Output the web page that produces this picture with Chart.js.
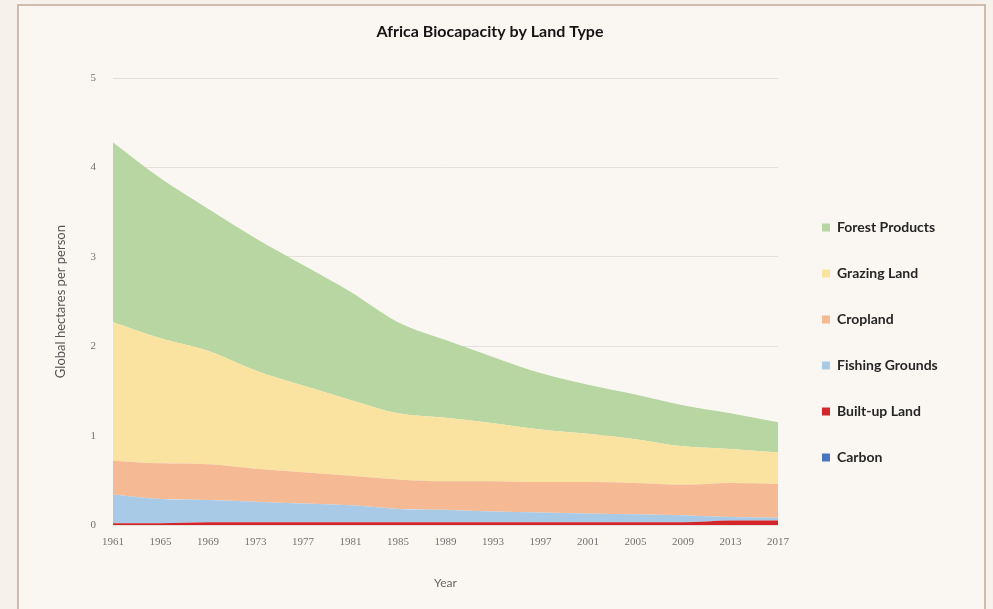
<!DOCTYPE html>
<html>
<head>
<meta charset="utf-8">
<title>Africa Biocapacity by Land Type</title>
<script src="https://cdn.jsdelivr.net/npm/chart.js@4.4.1/dist/chart.umd.min.js"></script>
<style>
  html, body { margin: 0; padding: 0; background: #f6f1eb; overflow: hidden; }
  .frame {
    position: absolute; left: 17px; top: 4px;
    width: 965px; height: 620px;
    border: 2px solid #cdbcad;
    background: #faf7f3;
  }
  .chart-box { position: absolute; left: 0; top: 2px; width: 965px; height: 603px; }
</style>
</head>
<body>
<div class="frame">
  <div class="chart-box"><canvas id="bioChart"></canvas></div>
</div>
<script>
// years shown on the axis (every fourth year)
const years = ['1961', '1965', '1969', '1973', '1977', '1981', '1985', '1989',
               '1993', '1997', '2001', '2005', '2009', '2013', '2017'];

// global hectares per person, stacked bottom to top
const carbon   = [0, 0, 0, 0, 0, 0, 0, 0, 0, 0, 0, 0, 0, 0, 0];
const builtUp  = [0.02, 0.02, 0.03, 0.03, 0.03, 0.03, 0.03, 0.03, 0.03, 0.03, 0.03, 0.03, 0.03, 0.05, 0.05];
const fishing  = [0.32, 0.27, 0.25, 0.23, 0.21, 0.19, 0.15, 0.14, 0.12, 0.11, 0.10, 0.09, 0.08, 0.04, 0.03];
const cropland = [0.38, 0.40, 0.40, 0.37, 0.35, 0.33, 0.33, 0.32, 0.34, 0.34, 0.35, 0.35, 0.34, 0.38, 0.38];
const grazing  = [1.55, 1.40, 1.27, 1.10, 0.97, 0.85, 0.74, 0.71, 0.65, 0.59, 0.54, 0.49, 0.43, 0.38, 0.35];
const forest   = [2.01, 1.79, 1.59, 1.48, 1.35, 1.21, 1.02, 0.87, 0.74, 0.63, 0.55, 0.50, 0.46, 0.40, 0.34];

const yTicks = [0, 1, 2, 3, 4, 5];

const series = [
  { label: 'Carbon',          data: carbon,   color: '#4a74bd' },
  { label: 'Built-up Land',   data: builtUp,  color: '#d2262b' },
  { label: 'Fishing Grounds', data: fishing,  color: '#a9cae6' },
  { label: 'Cropland',        data: cropland, color: '#f5ba93' },
  { label: 'Grazing Land',    data: grazing,  color: '#fae3a0' },
  { label: 'Forest Products', data: forest,   color: '#b7d6a1' }
];

// nudge the legend block to sit a little right of and below its default spot
const legendNudge = {
  id: 'legendNudge',
  afterLayout(chart) {
    const lg = chart.legend;
    if (!lg) return;
    lg.left += 12; lg.right += 12;
    lg.top += 33; lg.bottom += 33;
  }
};

const tickFont = { family: '"Liberation Serif", "DejaVu Serif", serif', size: 11 };

new Chart(document.getElementById('bioChart'), {
  type: 'line',
  data: {
    labels: years,
    datasets: series.map((s, i) => ({
      label: s.label,
      data: s.data,
      backgroundColor: s.color,
      borderColor: s.color,
      borderWidth: 0,
      pointRadius: 0,
      fill: i === 0 ? 'origin' : '-1',
      cubicInterpolationMode: 'monotone'
    }))
  },
  options: {
    responsive: true,
    maintainAspectRatio: false,
    animation: false,
    layout: { padding: { left: 33, right: 56, top: 0, bottom: 0 } },
    plugins: {
      title: {
        display: true,
        text: 'Africa Biocapacity by Land Type',
        color: '#141414',
        font: { family: 'Lato, "Open Sans", sans-serif', size: 16, weight: 'bold' },
        padding: { top: 14, bottom: 37 }
      },
      legend: {
        position: 'right',
        reverse: true,
        maxWidth: 150,
        labels: {
          boxWidth: 8,
          boxHeight: 8,
          padding: 32,
          color: '#262626',
          font: { family: 'Lato, "Open Sans", sans-serif', size: 14, weight: 'bold' }
        }
      },
      tooltip: { enabled: false }
    },
    scales: {
      x: {
        grid: { display: false, drawTicks: false },
        border: { display: false },
        ticks: { color: '#737373', font: tickFont, padding: 11, maxRotation: 0, autoSkip: false },
        title: {
          display: true,
          text: 'Year',
          color: '#666666',
          font: { family: 'Lato, sans-serif', size: 12 },
          padding: { top: 0, bottom: 21 }
        },
        afterFit(scale) { scale.height = 86; }
      },
      y: {
        stacked: true,
        min: 0,
        max: 5,
        grid: { color: '#e4dfd9', lineWidth: 1, drawTicks: false },
        border: { display: false },
        afterBuildTicks(scale) { scale.ticks = yTicks.map(v => ({ value: v })); },
        ticks: { color: '#737373', font: tickFont, padding: 17 },
        title: {
          display: true,
          text: 'Global hectares per person',
          color: '#555555',
          font: { family: 'Lato, sans-serif', size: 13 },
          padding: { top: 1, bottom: 0 }
        },
        afterFit(scale) { scale.width = 61; }
      }
    }
  },
  plugins: [legendNudge]
});
</script>
</body>
</html>
